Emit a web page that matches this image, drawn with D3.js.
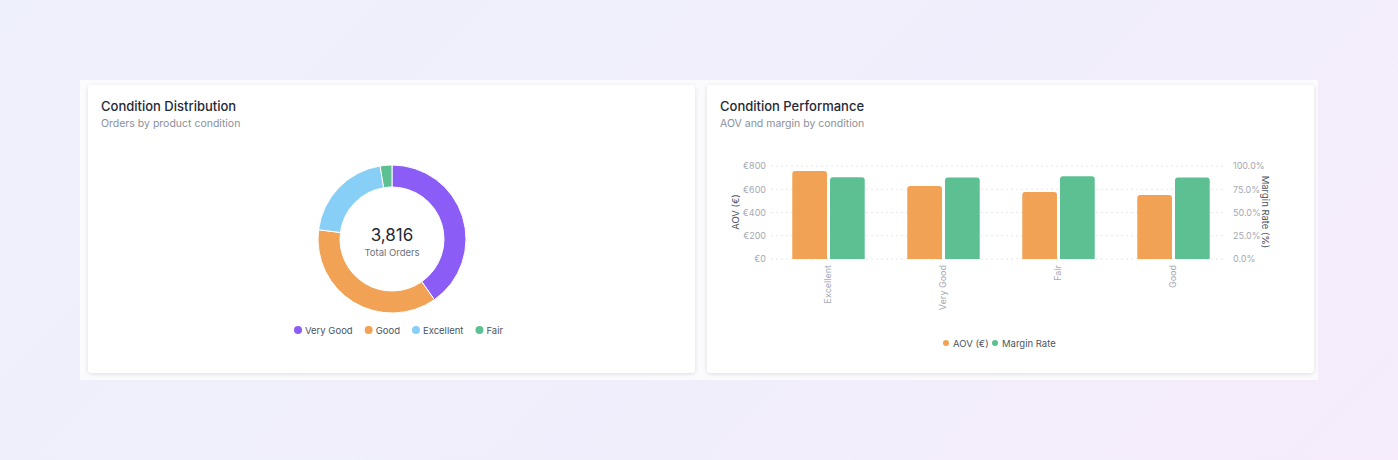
<!DOCTYPE html>
<html><head><meta charset="utf-8">
<script src="https://cdn.jsdelivr.net/npm/d3@7"></script>
<style>
body{margin:0;width:1398px;height:460px;background:linear-gradient(135deg,#eef0fb 0%,#f1eefc 60%,#f6ecfb 100%);font-family:Inter,sans-serif;}
svg{position:absolute;left:0;top:0}
</style></head><body>
<svg id="c" width="1398" height="460"></svg>
<script>
const conditions = ['Very Good', 'Good', 'Excellent', 'Fair'];
const orders = [1538, 1400, 780, 98];
const donutColors = ['#8b5cf6', '#f2a254', '#87cff7', '#5cc093'];

const perfCategories = ['Excellent', 'Very Good', 'Fair', 'Good'];
const aov = [757, 628, 576, 550];
const marginRate = [0.88, 0.876, 0.89, 0.876];
const aovTicks = [0, 200, 400, 600, 800];
const marginTicks = [0, 0.25, 0.5, 0.75, 1.0];

const svg = d3.select('#c');
const defs = svg.append('defs');
const f = defs.append('filter').attr('id', 'sh').attr('x', '-5%').attr('y', '-5%').attr('width', '110%').attr('height', '115%');
f.append('feDropShadow').attr('dx', 0).attr('dy', 1).attr('stdDeviation', 2).attr('flood-color', '#000').attr('flood-opacity', 0.12);

svg.append('rect').attr('x', 80).attr('y', 80).attr('width', 1238).attr('height', 300).attr('fill', '#fbfbfd');

function card(x, title, sub) {
  svg.append('rect').attr('x', x).attr('y', 85).attr('width', 607).attr('height', 288).attr('rx', 4)
    .attr('fill', '#fff').attr('filter', 'url(#sh)');
  svg.append('text').attr('x', x + 13).attr('y', 111).text(title)
    .attr('font-size', 13).attr('font-weight', 500).attr('fill', '#1f2937');
  svg.append('text').attr('x', x + 13).attr('y', 127).text(sub)
    .attr('font-size', 10.5).attr('fill', '#8a8f9c');
}
card(88, 'Condition Distribution', 'Orders by product condition');
card(707, 'Condition Performance', 'AOV and margin by condition');

// donut
const cx = 392, cy = 239;
const pie = d3.pie().sort(null).value(d => d)(orders);
const arc = d3.arc().innerRadius(52).outerRadius(74);
const dg = svg.append('g').attr('transform', `translate(${cx},${cy})`);
dg.selectAll('path').data(pie).enter().append('path')
  .attr('d', arc).attr('fill', (d, i) => donutColors[i]).attr('stroke', '#fff').attr('stroke-width', 1);
dg.append('text').attr('text-anchor', 'middle').attr('y', 2).attr('font-size', 17).attr('fill', '#1f2937')
  .text(d3.format(',')(d3.sum(orders)));
dg.append('text').attr('text-anchor', 'middle').attr('y', 17).attr('font-size', 9.5).attr('fill', '#6b7280').text('Total Orders');

const lg = svg.append('g');
let lx = 294;
conditions.forEach((c, i) => {
  lg.append('circle').attr('cx', lx + 4).attr('cy', 330).attr('r', 4).attr('fill', donutColors[i]);
  const t = lg.append('text').attr('x', lx + 11).attr('y', 333.5).attr('font-size', 9.5).attr('fill', '#4b5563').text(c);
  lx += 11 + t.node().getComputedTextLength() + 12;
});

// bars
const x0 = d3.scaleBand().domain(perfCategories).range([771, 1231]).paddingInner(0.37).paddingOuter(0.185);
const x1 = d3.scaleBand().domain(['aov', 'margin']).range([0, x0.bandwidth()]).paddingInner(0.08);
const yL = d3.scaleLinear().domain([0, 800]).range([259, 166]);
const yR = d3.scaleLinear().domain([0, 1]).range([259, 166]);

const grid = svg.append('g');
grid.selectAll('line').data(aovTicks).enter().append('line')
  .attr('x1', 771).attr('x2', 1226).attr('y1', d => yL(d)).attr('y2', d => yL(d))
  .attr('stroke', '#e5e7eb').attr('stroke-dasharray', '2,3');

const axL = svg.append('g').attr('transform', 'translate(771,0)')
  .call(d3.axisLeft(yL).tickValues(aovTicks).tickSize(0).tickPadding(5).tickFormat(d => '€' + d));
const axR = svg.append('g').attr('transform', 'translate(1226,0)')
  .call(d3.axisRight(yR).tickValues(marginTicks).tickSize(0).tickPadding(7).tickFormat(d3.format('.1%')));
const axB = svg.append('g').attr('transform', 'translate(0,259)')
  .call(d3.axisBottom(x0).tickSize(0));
[axL, axR, axB].forEach(a => {
  a.select('.domain').remove();
  a.selectAll('text').attr('font-family', 'Inter,sans-serif').attr('font-size', 9).attr('fill', '#a5a9b4');
});
axB.selectAll('text').attr('transform', 'rotate(-90)').attr('text-anchor', 'end')
  .attr('x', -6).attr('y', 0).attr('dy', '0.32em');

svg.append('text').attr('transform', 'translate(739,212) rotate(-90)').attr('text-anchor', 'middle')
  .attr('font-size', 9.5).attr('fill', '#4b5563').text('AOV (€)');
svg.append('text').attr('transform', 'translate(1262,212) rotate(90)').attr('text-anchor', 'middle')
  .attr('font-size', 9.5).attr('fill', '#4b5563').text('Margin Rate (%)');

const groups = svg.append('g').selectAll('g').data(perfCategories).enter().append('g')
  .attr('transform', d => `translate(${x0(d)},0)`);
function topRound(x, y, w, h, r) {
  return `M${x},${y + h}V${y + r}Q${x},${y} ${x + r},${y}H${x + w - r}Q${x + w},${y} ${x + w},${y + r}V${y + h}Z`;
}
groups.append('path').attr('fill', '#f2a254')
  .attr('d', (d, i) => topRound(x1('aov'), yL(aov[i]), x1.bandwidth(), 259 - yL(aov[i]), 3));
groups.append('path').attr('fill', '#5cc093')
  .attr('d', (d, i) => topRound(x1('margin'), yR(marginRate[i]), x1.bandwidth(), 259 - yR(marginRate[i]), 3));

const bl = svg.append('g');
[['AOV (€)', '#f2a254', 943], ['Margin Rate', '#5cc093', 992]].forEach(([t, c, x]) => {
  bl.append('circle').attr('cx', x + 3).attr('cy', 343).attr('r', 3).attr('fill', c);
  bl.append('text').attr('x', x + 10).attr('y', 346.5).attr('font-size', 9.5).attr('fill', '#4b5563').text(t);
});
</script>
</body></html>
